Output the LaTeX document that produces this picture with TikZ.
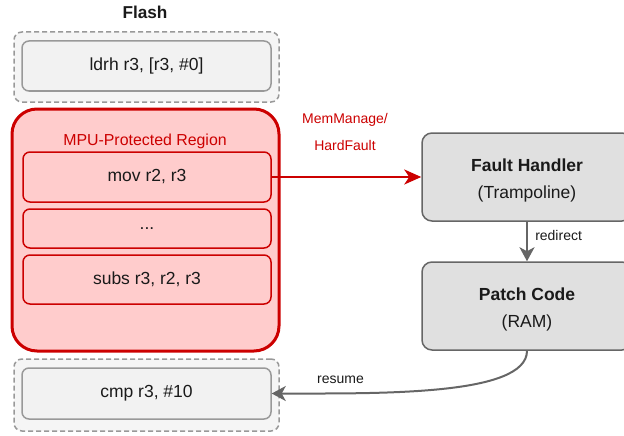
\documentclass[tikz,border=0pt]{standalone}
\usepackage{fontspec}
\setmainfont{Liberation Sans}
\usetikzlibrary{arrows.meta,positioning}

\definecolor{faultred}{HTML}{CC0000}
\definecolor{mpufill}{HTML}{FFCCCC}
\definecolor{boxgray}{HTML}{999999}
\definecolor{darkgray}{HTML}{666666}
\definecolor{flashfill}{HTML}{F5F5F5}
\definecolor{instrfill}{HTML}{F2F2F2}
\definecolor{handfill}{HTML}{E0E0E0}
\definecolor{txt}{HTML}{1A1A1A}

\begin{document}
\begin{tikzpicture}[x=1pt, y=-1pt, line width=1.5pt,
  every node/.style={text=txt, inner sep=0pt},
  flash/.style={draw=boxgray, fill=flashfill, dashed, dash pattern=on 5pt off 3pt,
    rounded corners=8pt, minimum width=265pt, minimum height=70pt},
  instr/.style={draw=boxgray, fill=instrfill, rounded corners=7pt,
    minimum width=249pt, minimum height=50pt, font=\fontsize{17.5}{20}\selectfont},
  redinstr/.style={draw=faultred, fill=mpufill, rounded corners=7pt,
    minimum width=248pt, font=\fontsize{17.5}{20}\selectfont},
  handler/.style={draw=darkgray, fill=handfill, rounded corners=10pt,
    minimum width=210pt, minimum height=88pt, align=center,
    font=\fontsize{17.5}{27}\selectfont},
  lbl/.style={font=\fontsize{14}{27}\selectfont, align=center}]

\useasboundingbox (0,0) rectangle (624,436);

\node[font=\bfseries\fontsize{17.2}{20}\selectfont] (flash) at (145,12) {Flash};

% flash before the region
\node[flash] (top) at (146.5,67) {};
\node[instr] (ldrh) at (146.5,66) {ldrh r3, [r3, \#0]};

% protected region
\node[draw=faultred, fill=mpufill, line width=3pt, rounded corners=25pt,
  minimum width=267pt, minimum height=242pt] (mpu) at (145.5,230) {};
\node[text=faultred, font=\fontsize{15.9}{18}\selectfont] (mputitle) at (145,141) {MPU-Protected Region};
\node[redinstr, minimum height=50pt] (mov) at (147,177) {mov r2, r3};
\node[redinstr, minimum height=39pt] (dots) at (147,228.5) {...};
\node[redinstr, minimum height=49pt] (subs) at (147,279.5) {subs r3, r2, r3};

% flash after the region
\node[flash, minimum height=72pt] (bottom) at (146.5,395) {};
\node[instr, minimum height=51pt] (cmp) at (146.5,393.5) {cmp r3, \#10};

% handler side
\node[handler] (fault) at (527,177) {\rule{0pt}{19pt}\textbf{Fault Handler}\\(Trampoline)};
\node[handler] (patch) at (527,306) {\rule{0pt}{19pt}\textbf{Patch Code}\\(RAM)};

\draw[faultred, line width=2.5pt, -{Stealth[length=17pt,width=15pt,inset=5pt]}] (mov) -- (fault);
\node[lbl, text=faultred] (fault label) at (345,132) {MemManage/\\HardFault};

\draw[darkgray, line width=2.5pt, -{Stealth[length=14pt,width=15pt,inset=4pt]}] (fault) -- (patch)
  node[pos=0.35, right=7pt, font=\fontsize{14}{16}\selectfont] (redirect) {redirect};

\draw[darkgray, line width=2pt, -{Stealth[length=14pt,width=15pt,inset=4pt]}]
  (patch.south) .. controls +(0,45) and +(110,0) .. (cmp.east)
  node[pos=0.8, above=9pt, font=\fontsize{14}{16}\selectfont] (resume) {resume};

\end{tikzpicture}
\end{document}
